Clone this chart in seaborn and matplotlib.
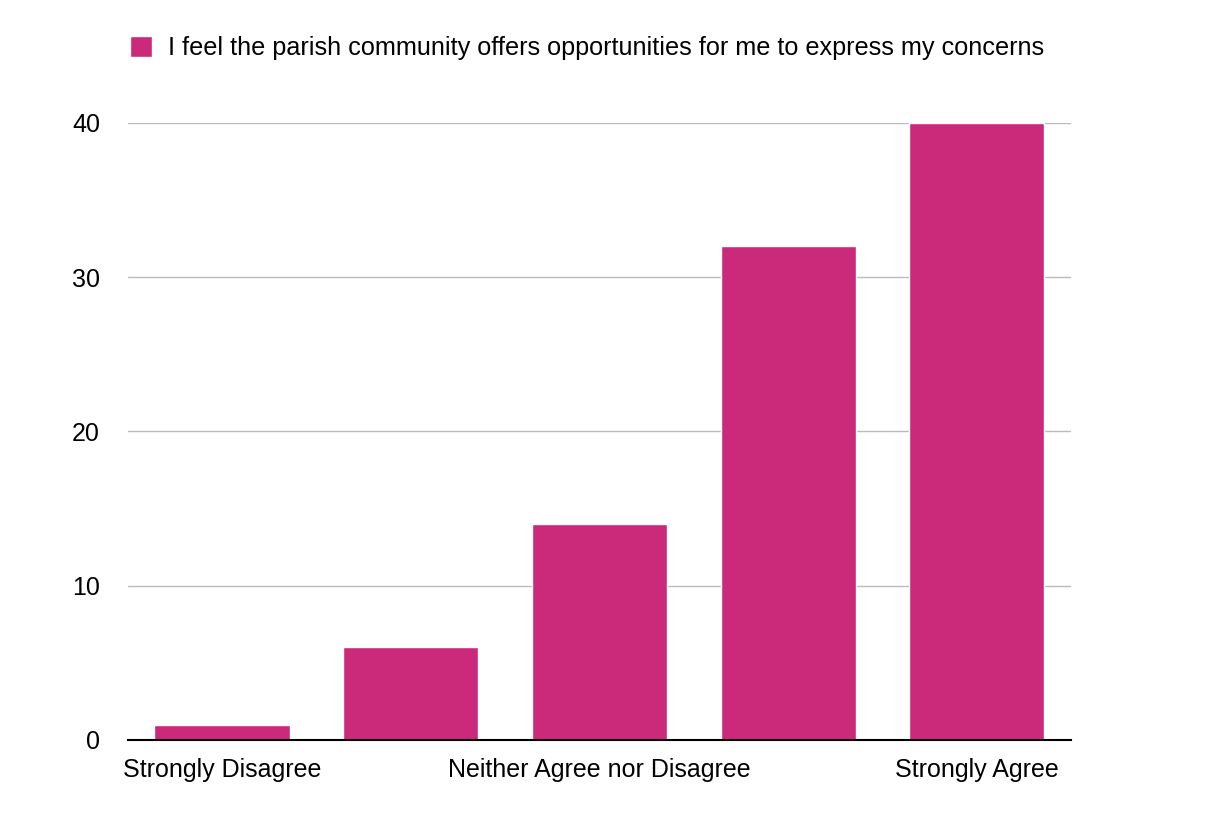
import matplotlib
matplotlib.use("Agg")
import matplotlib.pyplot as plt
import seaborn as sns
import pandas as pd

categories = ["Strongly Disagree", "Disagree", "Neither Agree nor Disagree", "Agree", "Strongly Agree"]
values = [1, 6, 14, 32, 40]
series_name = "I feel the parish community offers opportunities for me to express my concerns"
shown_labels = ["Strongly Disagree", "", "Neither Agree nor Disagree", "", "Strongly Agree"]
yticks = [0, 10, 20, 30, 40]

df = pd.DataFrame({"category": categories, "value": values, "series": series_name})

sns.set_theme(style="white")
plt.rcParams['font.family'] = ['Liberation Sans', 'DejaVu Sans']

fig = plt.figure(figsize=(12.16, 8.14), dpi=100)
ax = fig.add_axes([0.105, 0.091, 0.776, 0.758])

color = "#CB2A7B"
sns.barplot(data=df, x="category", y="value", hue="series", palette=[color],
            width=0.716, ax=ax, saturation=1, legend=True)

ax.set_xlim(-0.5, 4.5)
ax.set_ylim(0, 40)
ax.set_yticks(yticks)
ax.set_yticklabels([str(t) for t in yticks], fontsize=18)
ax.yaxis.grid(True, color="#BBBBBB", linewidth=1)
ax.set_axisbelow(True)
ax.set_xticks(range(len(categories)))
ax.set_xticklabels(shown_labels, fontsize=18)
ax.tick_params(axis="y", length=0, pad=20, labelcolor="black")
ax.tick_params(axis="x", length=0, pad=13, labelcolor="black")
ax.set_xlabel("")
ax.set_ylabel("")
for s in ["left", "right", "top"]:
    ax.spines[s].set_visible(False)
ax.spines["bottom"].set_color("black")
ax.spines["bottom"].set_linewidth(1.5)
ax.spines["bottom"].set_zorder(5)

leg = ax.legend(loc="upper left", bbox_to_anchor=(0.002, 1.141), frameon=False,
                fontsize=18.2, handlelength=0.9, handleheight=0.9, handletextpad=0.62,
                borderaxespad=0, borderpad=0)
for t in leg.get_texts():
    t.set_color("black")

fig.savefig("out.png", dpi=100, facecolor="white")
